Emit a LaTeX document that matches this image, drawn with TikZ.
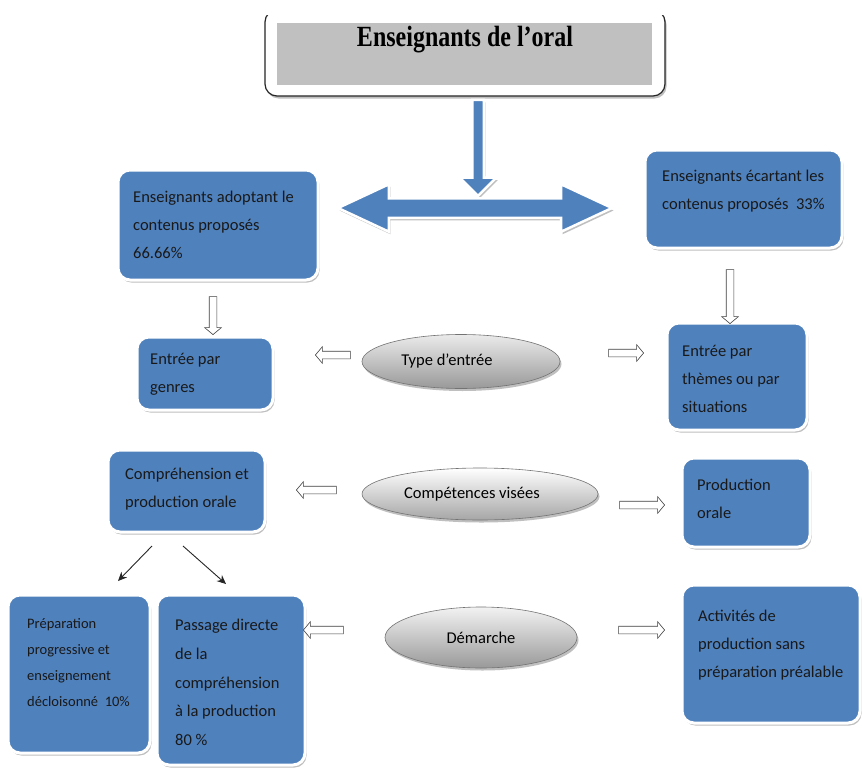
\documentclass[tikz,border=0pt]{standalone}
\usepackage{fontspec}
\setmainfont{Carlito}
\newfontfamily\titlefont{Liberation Serif}
\usetikzlibrary{shapes.arrows,shapes.geometric,shadows,arrows.meta}
\definecolor{boxblue}{HTML}{4F81BD}
\definecolor{titlegrey}{HTML}{C0C0C0}
\begin{document}
\begin{tikzpicture}[x=1pt,y=-1pt,
  shad/.style={drop shadow={shadow xshift=1.5pt,shadow yshift=-2.5pt,fill=black!45,opacity=0.55}},
  box/.style={draw=white,line width=3pt,fill=boxblue,rounded corners=12pt,inner sep=0pt,shad},
  txt/.style={anchor=west,align=left,inner sep=0pt,text=black!90},
  bigarrow/.style={fill=boxblue,draw=white,line width=2.5pt,shad},
  ell/.style={ellipse,draw=black!55,line width=0.6pt,top color=black!8,bottom color=black!40,inner sep=0pt,font=\fontsize{16.5}{18}\selectfont,shad},
  hollow/.style={single arrow,draw=black!75,fill=white,line width=0.6pt,inner sep=3.5pt,single arrow head extend=4.5pt,single arrow tip angle=100},
  blk/.style={-{Stealth[length=9pt,width=8pt]},line width=0.9pt,black!85}
]
\useasboundingbox (0,0) rectangle (862,771);
\fill[white] (0,0) rectangle (862,771);

% title
\begin{scope}
\clip (0,15) rectangle (862,771);
\node[draw=black!85,line width=1.2pt,rounded corners=12pt,minimum width=400pt,minimum height=86pt,inner sep=0pt,fill=white,shad] (outer) at (465,53) {};
\end{scope}
\node[fill=titlegrey,minimum width=375pt,minimum height=62pt,inner sep=0pt] (grey) at (464.5,54) {};
\node[font=\titlefont\bfseries\fontsize{24}{28}\selectfont,inner sep=0pt] (title) at (465,40) {\scalebox{1}[1.22]{Enseignants de l’oral}};

% big arrows
\node[bigarrow,single arrow,shape border rotate=270,minimum height=96pt,inner sep=4.5pt,single arrow head extend=12.5pt,single arrow tip angle=90] (down) at (478,145) {};
\node[bigarrow,double arrow,minimum height=274pt,inner sep=8.5pt,double arrow head extend=14pt,double arrow tip angle=50] (dbl) at (475,208) {};

% boxes
\node[box,minimum width=200pt,minimum height=110pt] (A) at (218,225) {};
\node[box,minimum width=197pt,minimum height=98pt] (B) at (743.5,199) {};
\node[box,minimum width=136pt,minimum height=73pt] (C) at (205,373.5) {};
\node[box,minimum width=140pt,minimum height=107pt] (D) at (737,376.5) {};
\node[box,minimum width=157pt,minimum height=82pt] (F) at (186.5,491) {};
\node[box,minimum width=128pt,minimum height=89pt] (G) at (746,502.5) {};
\node[box,minimum width=142pt,minimum height=158pt] (H) at (79,674) {};
\node[box,minimum width=148pt,minimum height=170pt] (I) at (231,680) {};
\node[box,minimum width=178pt,minimum height=138pt] (J) at (771,654) {};

% texts
\begin{scope}[every node/.append style={font=\fontsize{16.5}{28}\selectfont}]
\node[txt] (tA) at (133,225) {Enseignants adoptant le\\contenus proposés\\66.66\%};
\node[txt] (tB) at (662,191.5) {Enseignants écartant les\\contenus proposés\ \ 33\%};
\node[txt] (tC) at (150,374.5) {Entrée par\\genres};
\node[txt] (tD) at (682,378.5) {Entrée par\\thèmes ou par\\situations};
\node[txt] (tF) at (125,489) {Compréhension et\\production orale};
\node[txt] (tG) at (697,499) {Production\\orale};
\node[txt,font=\fontsize{14.5}{26.3}\selectfont] (tH) at (27,662.5) {Préparation\\progressive et\\enseignement\\décloisonné\ \ 10\%};
\node[txt,font=\fontsize{16.5}{28.8}\selectfont] (tI) at (175,682.5) {Passage directe\\de la\\compréhension\\à la production\\80 \%};
\node[txt] (tJ) at (698,645) {Activités de\\production sans\\préparation préalable};
\end{scope}

% ellipses
\node[ell,minimum width=198pt,minimum height=54pt] (E1) at (461,361.5) {\hspace*{-28pt}Type d’entrée};
\node[ell,minimum width=236pt,minimum height=52pt,top color=white,bottom color=black!35] (E2) at (480,494) {\hspace*{-16pt}Compétences visées};
\node[ell,minimum width=192pt,minimum height=61pt,top color=white!95!black,bottom color=black!40] (E3) at (481,637.5) {Démarche};

% hollow arrows
\node[hollow,shape border rotate=270,minimum height=38pt] (hA) at (213,314) {};
\node[hollow,shape border rotate=270,minimum height=54pt] (hB) at (730,295) {};
\node[hollow,shape border rotate=180,minimum height=35pt] (h1l) at (334.5,355) {};
\node[hollow,minimum height=35pt] (h1r) at (624.5,353) {};
\node[hollow,shape border rotate=180,minimum height=40pt] (h2l) at (318,490) {};
\node[hollow,minimum height=45pt] (h2r) at (640.5,505) {};
\node[hollow,shape border rotate=180,minimum height=40pt] (h3l) at (325,630) {};
\node[hollow,minimum height=46pt] (h3r) at (640,630) {};

% black arrows
\coordinate (f1) at (152,546);
\coordinate (f2) at (183,546);
\coordinate (hh) at (118,581);
\coordinate (ii) at (226,584);
\draw[blk] (f1) -- (hh);
\draw[blk] (f2) -- (ii);
\end{tikzpicture}
\end{document}
